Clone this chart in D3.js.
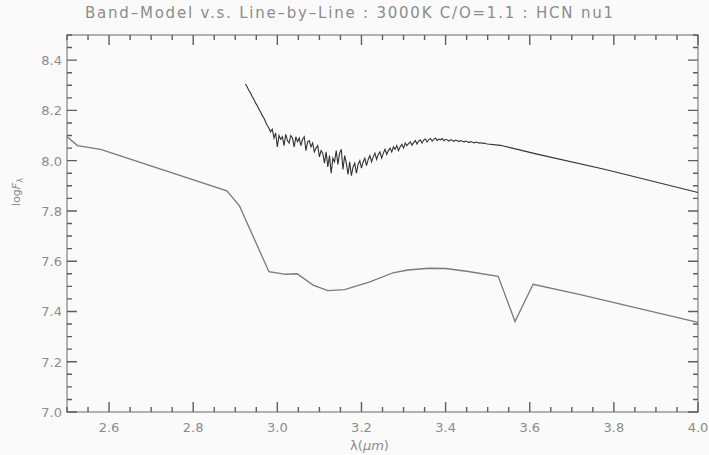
<!DOCTYPE html>
<meta charset="utf-8">
<style>
body { margin: 0; background: #fafafa; }
text { font-family: "DejaVu Sans", sans-serif; fill: #8c8c8c; }
</style>
<body>
<div class="chart"></div>
</body>
<script src="https://cdn.jsdelivr.net/npm/d3@7"></script>
<script>

var titleText = "Band\u2013Model v.s. Line\u2013by\u2013Line : 3000K C/O=1.1 : HCN nu1";
var xTicks = [2.6, 2.8, 3.0, 3.2, 3.4, 3.6, 3.8, 4.0];
var yTicks = [7.0, 7.2, 7.4, 7.6, 7.8, 8.0, 8.2, 8.4];

// band model (smooth curve)
var bandWave = [2.50, 2.525, 2.58, 2.88, 2.91, 2.98, 3.02, 3.047, 3.085, 3.12, 3.16, 3.22,
                3.275, 3.31, 3.36, 3.40, 3.45, 3.525, 3.565, 3.608, 3.72, 4.0];
var bandFlux = [8.095, 8.06, 8.045, 7.88, 7.82, 7.558, 7.548, 7.55, 7.505, 7.483, 7.487, 7.518,
                7.554, 7.565, 7.572, 7.571, 7.56, 7.54, 7.36, 7.508, 7.467, 7.357];

// line-by-line: sampled every 0.004 um from 2.924 to 3.500
var lblStart = 2.924, lblStep = 0.004;
var lblFlux = [
  8.305, 8.295, 8.28, 8.27, 8.255, 8.245, 8.23, 8.22, 8.205, 8.195,
  8.18, 8.17, 8.155, 8.14, 8.13, 8.115, 8.125, 8.09, 8.11, 8.055,
  8.10, 8.085, 8.095, 8.06, 8.105, 8.08, 8.07, 8.10, 8.09, 8.055,
  8.095, 8.075, 8.09, 8.06, 8.085, 8.095, 8.04, 8.075, 8.08, 8.055,
  8.07, 8.035, 8.05, 8.06, 8.015, 8.04, 8.03, 7.99, 8.035, 7.975,
  8.02, 7.95, 8.01, 7.995, 8.04, 7.985, 8.03, 8.045, 7.965, 8.02,
  7.99, 7.945, 7.995, 7.94, 7.975, 7.99, 7.95, 7.985, 8.00, 7.97,
  7.995, 8.01, 7.98, 8.005, 8.02, 7.995, 8.015, 8.03, 8.005, 8.025,
  8.035, 8.01, 8.03, 8.045, 8.025, 8.04, 8.05, 8.035, 8.055, 8.045,
  8.06, 8.04, 8.055, 8.065, 8.05, 8.07, 8.06, 8.068, 8.075, 8.062,
  8.072, 8.08, 8.066, 8.078, 8.083, 8.07, 8.082, 8.086, 8.074, 8.084,
  8.088, 8.078, 8.085, 8.09, 8.08, 8.086, 8.083, 8.088, 8.079, 8.085,
  8.082, 8.078, 8.084, 8.08, 8.077, 8.082, 8.079, 8.076, 8.08, 8.077,
  8.074, 8.078, 8.075, 8.072, 8.076, 8.073, 8.071, 8.074, 8.072, 8.07,
  8.071, 8.069, 8.07, 8.067, 8.066
];
// smooth continuation beyond 3.5 um
var tailWave = [3.53, 3.62, 3.78, 4.0];
var tailFlux = [8.061, 8.025, 7.965, 7.873];

var w = 709, h = 455,
    pL = 67, pR = 698, pT = 35, pB = 412;

var svg = d3.select(".chart").append("svg")
    .attr("width", w)
    .attr("height", h);

var x = d3.scaleLinear().domain([2.5, 4.0]).range([pL, pR]);
var y = d3.scaleLinear().domain([7.0, 8.5]).range([pB, pT]);

svg.append("rect")
    .attr("x", pL).attr("y", pT)
    .attr("width", pR - pL).attr("height", pB - pT)
    .attr("fill", "none")
    .attr("stroke", "#808080")
    .attr("stroke-width", 1.2);

// major every 0.2, minor every 0.05 (IDL style, inward on all four sides)
var xTickAll = d3.range(0, 31).map(function(i) { return { v: 2.5 + i * 0.05, major: i % 4 === 2 }; });
var yTickAll = d3.range(0, 31).map(function(i) { return { v: 7.0 + i * 0.05, major: i % 4 === 0 }; });
function tickLen(d) { return d.major ? 10 : 5; }

var tickPath = "";
xTickAll.forEach(function(d) {
  var px = x(d.v);
  tickPath += "M" + px + "," + pB + "V" + (pB - tickLen(d));
  tickPath += "M" + px + "," + pT + "V" + (pT + tickLen(d));
});
yTickAll.forEach(function(d) {
  var py = y(d.v);
  tickPath += "M" + pL + "," + py + "H" + (pL + tickLen(d));
  tickPath += "M" + pR + "," + py + "H" + (pR - tickLen(d));
});
svg.append("path")
    .attr("d", tickPath)
    .attr("fill", "none")
    .attr("stroke", "#5e5e5e")
    .attr("stroke-width", 1.4);

// tick labels
svg.append("g").selectAll("text").data(xTicks).enter().append("text")
    .attr("x", function(d) { return x(d); })
    .attr("y", pB + 20)
    .attr("text-anchor", "middle")
    .style("font-size", "13px")
    .text(d3.format(".1f"));

svg.append("g").selectAll("text").data(yTicks).enter().append("text")
    .attr("x", pL - 5)
    .attr("y", function(d) { return y(d) + 5; })
    .attr("text-anchor", "end")
    .style("font-size", "13px")
    .text(d3.format(".1f"));

var line = d3.line()
    .x(function(d) { return x(d[0]); })
    .y(function(d) { return y(d[1]); });

var bandData = bandWave.map(function(v, i) { return [v, bandFlux[i]]; });
var lblData = lblFlux.map(function(v, i) { return [lblStart + i * lblStep, v]; })
    .concat(tailWave.map(function(v, i) { return [v, tailFlux[i]]; }));

svg.append("path").datum(bandData)
    .attr("d", line)
    .attr("fill", "none")
    .attr("stroke", "#7a7a7a")
    .attr("stroke-width", 1.3);

svg.append("path").datum(lblData)
    .attr("d", line)
    .attr("fill", "none")
    .attr("stroke", "#333")
    .attr("stroke-width", 1.1);

// title and axis labels
svg.append("text")
    .attr("x", 349).attr("y", 18)
    .attr("text-anchor", "middle")
    .attr("textLength", 528)
    .attr("lengthAdjust", "spacing")
    .style("font-size", "15px")
    .text(titleText);

var xl = svg.append("text")
    .attr("x", (pL + pR) / 2 - 13).attr("y", 450)
    .attr("text-anchor", "middle")
    .style("font-size", "13px");
xl.append("tspan").text("\u03bb(");
xl.append("tspan").style("font-style", "italic").text("\u03bcm");
xl.append("tspan").text(")");

var yl = svg.append("text")
    .attr("transform", "translate(20,192) rotate(-90)")
    .attr("text-anchor", "middle")
    .style("font-size", "11px");
yl.append("tspan").text("log");
yl.append("tspan").style("font-style", "italic").text("F");
yl.append("tspan").attr("dy", 3).style("font-size", "8px").text("\u03bb");

</script>
